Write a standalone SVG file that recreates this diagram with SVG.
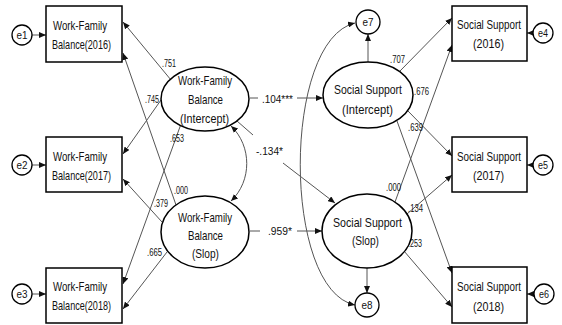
<svg xmlns="http://www.w3.org/2000/svg" width="562" height="325" viewBox="0 0 562 325">
  <style>
    .box { fill: #fff; stroke: #000; stroke-width: 1.5; }
    .lat { fill: #fff; stroke: #000; stroke-width: 1.5; }
    .err { fill: #fff; stroke: #000; stroke-width: 1.3; }
    .lbl { font-family: "Liberation Sans", Arial, sans-serif; font-size: 13px; fill: #111; }
    .coef { font-family: "Liberation Sans", Arial, sans-serif; font-size: 10.5px; fill: #111; }
    .etx { font-family: "Liberation Sans", Arial, sans-serif; font-size: 10px; fill: #111; }
    .cn { fill: none; stroke: #555; stroke-width: 1; }
    .cn.arr { marker-end: url(#ah); }
    .cn.both { marker-start: url(#ah); marker-end: url(#ah); }
  </style>
  <defs>
    <marker id="ah" markerWidth="7" markerHeight="6" refX="7" refY="3" orient="auto-start-reverse" markerUnits="userSpaceOnUse">
      <path d="M0,0 L7,3 L0,6 z" fill="#111"/>
    </marker>
  </defs>

  <rect width="562" height="325" fill="#fff"/>

  <!-- connectors -->
  <g id="connectors">
    <!-- error terms into indicators -->
    <line class="cn arr" x1="32" y1="35" x2="46" y2="35"/>
    <line class="cn arr" x1="32" y1="165" x2="46" y2="165"/>
    <line class="cn arr" x1="32" y1="294" x2="46" y2="294"/>
    <line class="cn arr" x1="533" y1="33" x2="527" y2="33"/>
    <line class="cn arr" x1="533" y1="165" x2="527" y2="165"/>
    <line class="cn arr" x1="534" y1="294" x2="527" y2="294"/>

    <!-- work-family balance loadings -->
    <line class="cn arr" x1="171" y1="80" x2="123" y2="22"/>
    <line class="cn arr" x1="161" y1="100" x2="123" y2="154"/>
    <line class="cn arr" x1="181" y1="124" x2="123" y2="284"/>
    <line class="cn arr" x1="176" y1="205" x2="123" y2="53"/>
    <line class="cn arr" x1="162" y1="222" x2="123" y2="179"/>
    <line class="cn arr" x1="167" y1="252" x2="123" y2="309"/>

    <!-- social support loadings -->
    <line class="cn arr" x1="400" y1="71" x2="452" y2="18"/>
    <line class="cn arr" x1="408" y1="111" x2="452" y2="156"/>
    <line class="cn arr" x1="397" y1="121" x2="452" y2="273"/>
    <line class="cn arr" x1="395" y1="202" x2="452" y2="45"/>
    <line class="cn arr" x1="407" y1="214" x2="452" y2="175"/>
    <line class="cn arr" x1="404" y1="251" x2="452" y2="307"/>

    <!-- residuals of social support factors -->
    <line class="cn arr" x1="368" y1="62" x2="368" y2="34"/>
    <line class="cn arr" x1="367" y1="268" x2="367" y2="293"/>

    <!-- covariances -->
    <path class="cn both" d="M231,126 C252,146 252,181 231,201"/>
    <path class="cn both" d="M355,23 C282,40 282,290 355,305"/>

    <!-- structural paths -->
    <line class="cn" x1="250" y1="98" x2="258" y2="98"/>
    <line class="cn arr" x1="297" y1="98" x2="323" y2="98"/>
    <line class="cn" x1="250" y1="231" x2="260" y2="231"/>
    <line class="cn arr" x1="297" y1="231" x2="322" y2="231"/>
    <line class="cn" x1="237" y1="121" x2="253" y2="135"/>
    <line class="cn arr" x1="283" y1="163" x2="335" y2="203"/>
  </g>

  <!-- coefficient labels -->
  <g id="coefficients">
    <text class="coef" x="162" y="67" textLength="14" lengthAdjust="spacingAndGlyphs">.751</text>
    <text class="coef" x="145" y="103" textLength="14" lengthAdjust="spacingAndGlyphs">.745</text>
    <text class="coef" x="170" y="142" textLength="14" lengthAdjust="spacingAndGlyphs">.653</text>
    <text class="coef" x="174" y="194" textLength="14" lengthAdjust="spacingAndGlyphs">.000</text>
    <text class="coef" x="154" y="207" textLength="14" lengthAdjust="spacingAndGlyphs">.379</text>
    <text class="coef" x="147" y="256" textLength="15" lengthAdjust="spacingAndGlyphs">.665</text>
    <text class="coef" x="390" y="63" textLength="15" lengthAdjust="spacingAndGlyphs">.707</text>
    <text class="coef" x="414" y="95" textLength="15" lengthAdjust="spacingAndGlyphs">.676</text>
    <text class="coef" x="408" y="131" textLength="15" lengthAdjust="spacingAndGlyphs">.639</text>
    <text class="coef" x="386" y="191" textLength="15" lengthAdjust="spacingAndGlyphs">.000</text>
    <text class="coef" x="408" y="212" textLength="15" lengthAdjust="spacingAndGlyphs">.134</text>
    <text class="coef" x="408" y="247" textLength="14" lengthAdjust="spacingAndGlyphs">.253</text>
    <text class="coef" x="262" y="103" textLength="31" lengthAdjust="spacingAndGlyphs">.104***</text>
    <text class="coef" x="256" y="155" textLength="27" lengthAdjust="spacingAndGlyphs">-.134*</text>
    <text class="coef" x="268" y="235" textLength="24" lengthAdjust="spacingAndGlyphs">.959*</text>
  </g>

  <!-- observed indicators: work-family balance -->
  <g id="wfb2016">
    <rect class="box" x="46" y="6" width="76" height="56"/>
    <text class="lbl" x="53" y="30" textLength="54" lengthAdjust="spacingAndGlyphs">Work-Family</text>
    <text class="lbl" x="52" y="49" textLength="59" lengthAdjust="spacingAndGlyphs">Balance(2016)</text>
  </g>
  <g id="wfb2017">
    <rect class="box" x="46" y="137" width="76" height="55"/>
    <text class="lbl" x="53" y="161" textLength="54" lengthAdjust="spacingAndGlyphs">Work-Family</text>
    <text class="lbl" x="52" y="180" textLength="59" lengthAdjust="spacingAndGlyphs">Balance(2017)</text>
  </g>
  <g id="wfb2018">
    <rect class="box" x="46" y="268" width="76" height="55"/>
    <text class="lbl" x="53" y="291" textLength="54" lengthAdjust="spacingAndGlyphs">Work-Family</text>
    <text class="lbl" x="52" y="310" textLength="59" lengthAdjust="spacingAndGlyphs">Balance(2018)</text>
  </g>

  <!-- observed indicators: social support -->
  <g id="ss2016">
    <rect class="box" x="452" y="6" width="75" height="55"/>
    <text class="lbl" x="457" y="29" textLength="64" lengthAdjust="spacingAndGlyphs">Social Support</text>
    <text class="lbl" x="473" y="48" textLength="31" lengthAdjust="spacingAndGlyphs">(2016)</text>
  </g>
  <g id="ss2017">
    <rect class="box" x="452" y="137" width="75" height="55"/>
    <text class="lbl" x="457" y="161" textLength="64" lengthAdjust="spacingAndGlyphs">Social Support</text>
    <text class="lbl" x="473" y="180" textLength="31" lengthAdjust="spacingAndGlyphs">(2017)</text>
  </g>
  <g id="ss2018">
    <rect class="box" x="452" y="267" width="75" height="56"/>
    <text class="lbl" x="457" y="291" textLength="64" lengthAdjust="spacingAndGlyphs">Social Support</text>
    <text class="lbl" x="473" y="311" textLength="31" lengthAdjust="spacingAndGlyphs">(2018)</text>
  </g>

  <!-- latent growth factors -->
  <g id="wfbIntercept">
    <ellipse class="lat" cx="205" cy="99" rx="44" ry="32"/>
    <text class="lbl" x="178" y="84.5" textLength="54" lengthAdjust="spacingAndGlyphs">Work-Family</text>
    <text class="lbl" x="188" y="103.5" textLength="35" lengthAdjust="spacingAndGlyphs">Balance</text>
    <text class="lbl" x="180" y="122.5" textLength="49" lengthAdjust="spacingAndGlyphs">(Intercept)</text>
  </g>
  <g id="wfbSlope">
    <ellipse class="lat" cx="205" cy="232" rx="44" ry="36"/>
    <text class="lbl" x="178" y="221.5" textLength="54" lengthAdjust="spacingAndGlyphs">Work-Family</text>
    <text class="lbl" x="188" y="239.5" textLength="35" lengthAdjust="spacingAndGlyphs">Balance</text>
    <text class="lbl" x="192" y="257.5" textLength="27" lengthAdjust="spacingAndGlyphs">(Slop)</text>
  </g>
  <g id="ssIntercept">
    <ellipse class="lat" cx="368" cy="95" rx="45" ry="33"/>
    <text class="lbl" x="334" y="93.5" textLength="68" lengthAdjust="spacingAndGlyphs">Social Support</text>
    <text class="lbl" x="342" y="113.5" textLength="51" lengthAdjust="spacingAndGlyphs">(Intercept)</text>
  </g>
  <g id="ssSlope">
    <ellipse class="lat" cx="367" cy="231" rx="45" ry="37"/>
    <text class="lbl" x="333" y="226.5" textLength="69" lengthAdjust="spacingAndGlyphs">Social Support</text>
    <text class="lbl" x="352" y="244.5" textLength="27" lengthAdjust="spacingAndGlyphs">(Slop)</text>
  </g>

  <!-- error terms -->
  <g id="e1"><circle class="err" cx="22" cy="35" r="10"/><text class="etx" x="16.5" y="39" textLength="11" lengthAdjust="spacingAndGlyphs">e1</text></g>
  <g id="e2"><circle class="err" cx="22" cy="165" r="10"/><text class="etx" x="16.5" y="169" textLength="11" lengthAdjust="spacingAndGlyphs">e2</text></g>
  <g id="e3"><circle class="err" cx="22" cy="294" r="10"/><text class="etx" x="16.5" y="298" textLength="11" lengthAdjust="spacingAndGlyphs">e3</text></g>
  <g id="e4"><circle class="err" cx="543" cy="33" r="10"/><text class="etx" x="538" y="37" textLength="10" lengthAdjust="spacingAndGlyphs">e4</text></g>
  <g id="e5"><circle class="err" cx="543" cy="165" r="10"/><text class="etx" x="538" y="169" textLength="10" lengthAdjust="spacingAndGlyphs">e5</text></g>
  <g id="e6"><circle class="err" cx="544" cy="294" r="10"/><text class="etx" x="539" y="298" textLength="10" lengthAdjust="spacingAndGlyphs">e6</text></g>
  <g id="e7"><circle class="err" cx="368" cy="22" r="12"/><text class="etx" x="362.5" y="26" textLength="11" lengthAdjust="spacingAndGlyphs">e7</text></g>
  <g id="e8"><circle class="err" cx="367" cy="305" r="12"/><text class="etx" x="361.5" y="309" textLength="11" lengthAdjust="spacingAndGlyphs">e8</text></g>
</svg>
